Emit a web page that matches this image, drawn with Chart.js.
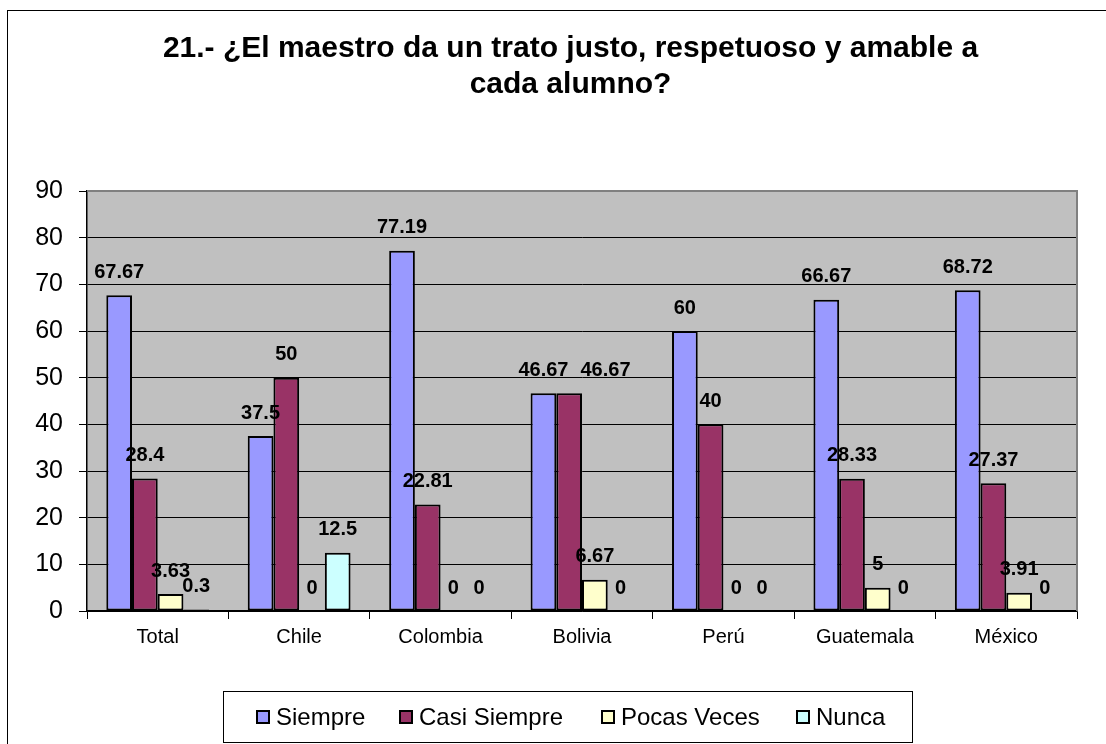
<!DOCTYPE html>
<html>
<head>
<meta charset="utf-8">
<script src="https://cdn.jsdelivr.net/npm/chart.js@4/dist/chart.umd.min.js"></script>
<style>
  html, body { margin: 0; padding: 0; background: #ffffff; }
  canvas { display: block; }
</style>
</head>
<body>
<canvas id="c" width="1106" height="744"></canvas>
<script>
const categories = ['Total', 'Chile', 'Colombia', 'Bolivia', 'Perú', 'Guatemala', 'México'];
const siempre      = [67.67, 37.5, 77.19, 46.67, 60, 66.67, 68.72];
const casiSiempre  = [28.4, 50, 22.81, 46.67, 40, 28.33, 27.37];
const pocasVeces   = [3.63, 0, 0, 6.67, 0, 5, 3.91];
const nunca        = [0.3, 12.5, 0, 0, 0, 0, 0];
const seriesNames  = ['Siempre', 'Casi Siempre', 'Pocas Veces', 'Nunca'];
const titleLines   = ['21.- ¿El maestro da un trato justo, respetuoso y amable a', 'cada alumno?'];

const FONT = "'Liberation Sans', Arial, sans-serif";

const frame = {
  id: 'frame',
  afterLayout(chart) {
    const tb = chart.titleBlock;
    if (tb) { tb.left += 32; tb.right += 32; }
  },
  beforeDraw(chart) {
    const ctx = chart.ctx, a = chart.chartArea;
    ctx.save();
    ctx.fillStyle = '#ffffff';
    ctx.fillRect(0, 0, chart.width, chart.height);
    ctx.strokeStyle = '#000000';
    ctx.lineWidth = 1;
    ctx.strokeRect(7.5, 10.5, chart.width + 20, chart.height + 20);
    ctx.fillStyle = '#C0C0C0';
    ctx.fillRect(a.left, a.top, a.right - a.left, a.bottom - a.top);
    ctx.restore();
  },
  afterDatasetsDraw(chart) {
    const ctx = chart.ctx;
    ctx.save();
    ctx.font = 'bold 20px ' + FONT;
    ctx.fillStyle = '#000000';
    ctx.textAlign = 'left';
    ctx.textBaseline = 'middle';
    const n = chart.data.labels.length;
    for (let j = 0; j < n; j++) {
      const placed = [];
      chart.data.datasets.forEach((ds, i) => {
        const el = chart.getDatasetMeta(i).data[j];
        const txt = String(ds.data[j]);
        const w = ctx.measureText(txt).width;
        let x = el.x - w / 2;
        const y = el.y - 23;
        placed.forEach(p => {
          if (Math.abs(p.y - y) < 5 && x < p.x + p.w + 4) x = p.x + p.w + 12;
        });
        placed.push({ x, y, w });
        ctx.fillText(txt, x, y);
      });
    }
    ctx.restore();
  },
  afterDraw(chart) {
    const ctx = chart.ctx, a = chart.chartArea;
    ctx.save();
    ctx.strokeStyle = '#808080';
    ctx.lineWidth = 2;
    ctx.beginPath();
    ctx.moveTo(a.left, a.top);
    ctx.lineTo(a.right, a.top);
    ctx.lineTo(a.right, a.bottom);
    ctx.stroke();
    const lx = 223.5, ly = 691.5, lw = 689, lh = 51;
    ctx.strokeStyle = '#000000';
    ctx.lineWidth = 1;
    ctx.fillStyle = '#ffffff';
    ctx.fillRect(lx, ly, lw, lh);
    ctx.strokeRect(lx, ly, lw, lh);
    ctx.font = '24px ' + FONT;
    ctx.textBaseline = 'middle';
    ctx.textAlign = 'left';
    const markerX = [257, 400, 602, 797];
    chart.data.datasets.forEach((ds, i) => {
      const mx = markerX[i], my = 711;
      ctx.fillStyle = ds.backgroundColor;
      ctx.fillRect(mx, my, 12, 12);
      ctx.lineWidth = 2;
      ctx.strokeStyle = '#000000';
      ctx.strokeRect(mx, my, 12, 12);
      ctx.fillStyle = '#000000';
      ctx.fillText(ds.label, mx + 19, 718);
    });
    ctx.restore();
  }
};

const colors = ['#9999FF', '#993366', '#FFFFCC', '#CCFFFF'];
const seriesData = [siempre, casiSiempre, pocasVeces, nunca];

new Chart(document.getElementById('c'), {
  type: 'bar',
  data: {
    labels: categories,
    datasets: seriesNames.map((name, i) => ({
      label: name,
      data: seriesData[i],
      backgroundColor: colors[i],
      borderColor: '#000000',
      borderWidth: 2,
      borderSkipped: false,
      categoryPercentage: 0.727,
      barPercentage: 1.0
    }))
  },
  options: {
    responsive: false,
    animation: false,
    devicePixelRatio: 1,
    layout: { padding: { left: 0, right: 29, top: 0, bottom: 0 } },
    plugins: {
      legend: { display: false },
      tooltip: { enabled: false },
      title: {
        display: true,
        text: titleLines,
        color: '#000000',
        font: { family: FONT, size: 30, weight: 'bold', lineHeight: 1.2 },
        padding: { top: 31, bottom: 88 }
      }
    },
    scales: {
      x: {
        grid: {
          offset: true,
          drawOnChartArea: false,
          drawTicks: true,
          tickLength: 8,
          color: '#000000'
        },
        border: { color: '#000000', width: 1.5 },
        ticks: {
          color: '#000000',
          font: { family: FONT, size: 20 },
          padding: 6,
          maxRotation: 0
        },
        afterFit(scale) { scale.height = 133; }
      },
      y: {
        min: 0,
        max: 90,
        ticks: {
          stepSize: 10,
          color: '#000000',
          font: { family: FONT, size: 25 },
          padding: 16
        },
        grid: {
          color: '#000000',
          lineWidth: 1,
          tickLength: 8,
          tickColor: '#000000'
        },
        border: { color: '#000000', width: 1.5 },
        afterFit(scale) { scale.width = 87; }
      }
    }
  },
  plugins: [frame]
});
</script>
</body>
</html>
